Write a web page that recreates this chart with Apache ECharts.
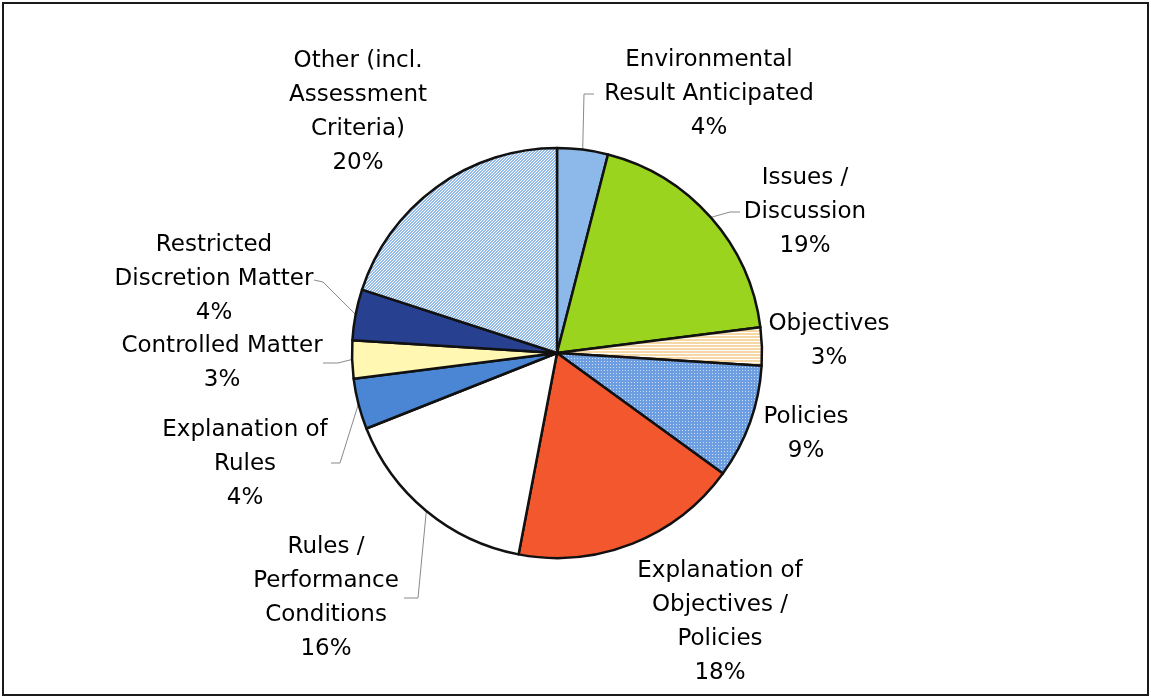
<!DOCTYPE html>
<html>
<head>
<meta charset="utf-8">
<script src="https://cdn.jsdelivr.net/npm/echarts@6/dist/echarts.min.js"></script>
<style>
html,body{margin:0;padding:0;background:#fff;}
#chart{width:1151px;height:699px;}
</style>
</head>
<body>
<div id="chart"></div>
<script>
// ---- data ----
const categories = [
  'Environmental\nResult Anticipated',
  'Issues /\nDiscussion',
  'Objectives',
  'Policies',
  'Explanation of\nObjectives /\nPolicies',
  'Rules /\nPerformance\nConditions',
  'Explanation of\nRules',
  'Controlled Matter',
  'Restricted\nDiscretion Matter',
  'Other (incl.\nAssessment\nCriteria)'
];
const percentages = [4, 19, 3, 9, 18, 16, 4, 3, 4, 20];

// ---- label placement (layout, not data) ----
const labelCenters = [
  [709, 94], [805, 212], [829, 341], [806, 434], [720, 622],
  [326, 598], [245, 464], [222, 363], [214, 279], [358, 112]
];
const leaders = [
  [[584, 94], [594, 94]],
  [[730, 212], [740, 212]],
  null, null, null,
  [[418, 598], [404, 598]],
  [[340, 463], [331, 463]],
  [[338, 363], [323, 363]],
  [[323, 282], [314, 280]],
  null
];

function makePattern(w, h, bg, draw) {
  const c = document.createElement('canvas');
  c.width = w; c.height = h;
  const g = c.getContext('2d');
  g.fillStyle = bg; g.fillRect(0, 0, w, h);
  g.fillStyle = '#ffffff';
  draw(g);
  return { image: c, repeat: 'repeat' };
}
const diagPattern = makePattern(3, 3, '#93BBEA', g => {
  g.fillRect(0, 2, 1, 1); g.fillRect(1, 1, 1, 1); g.fillRect(2, 0, 1, 1);
});
const horizPattern = makePattern(4, 3, '#F6D8A6', g => { g.fillRect(0, 2, 4, 1); });
const dotPattern = makePattern(3, 3, '#6E9EE2', g => { g.fillStyle = '#C9DCF6'; g.fillRect(1, 1, 1, 1); });

const colors = [
  '#8DB8EA', '#9AD41E', horizPattern, dotPattern, '#F2572E',
  '#FFFFFF', '#4A86D4', '#FFF7B2', '#27408F', diagPattern
];

const chart = echarts.init(document.getElementById('chart'), null, { renderer: 'canvas' });

const seriesData = categories.map((name, i) => ({
  name: name,
  value: percentages[i],
  itemStyle: { color: colors[i] },
  labelLine: { show: !!leaders[i] }
}));

chart.setOption({
  animation: false,
  backgroundColor: '#ffffff',
  graphic: [{
    type: 'rect',
    shape: { x: 3, y: 3, width: 1145, height: 692 },
    style: { fill: 'none', stroke: '#1a1a1a', lineWidth: 2 },
    silent: true
  }],
  series: [{
    type: 'pie',
    center: [557, 353],
    radius: 205,
    startAngle: 90,
    clockwise: true,
    avoidLabelOverlap: false,
    itemStyle: { borderColor: '#111', borderWidth: 2.5 },
    label: {
      show: true,
      position: 'outside',
      formatter: '{b}\n{c}%',
      fontFamily: 'DejaVu Sans, sans-serif',
      fontSize: 23,
      lineHeight: 34,
      color: '#000000',
      align: 'center'
    },
    labelLine: { show: true, lineStyle: { color: '#8a8a8a', width: 1 }, length: 10, length2: 10 },
    labelLayout: function (params) {
      const i = params.dataIndex;
      const p = labelCenters[i];
      const out = { x: p[0], y: p[1], align: 'center', verticalAlign: 'middle' };
      if (leaders[i] && params.labelLinePoints) {
        out.labelLinePoints = [params.labelLinePoints[0], leaders[i][0], leaders[i][1]];
      }
      return out;
    },
    emphasis: { disabled: true },
    data: seriesData
  }]
});
</script>
</body>
</html>
